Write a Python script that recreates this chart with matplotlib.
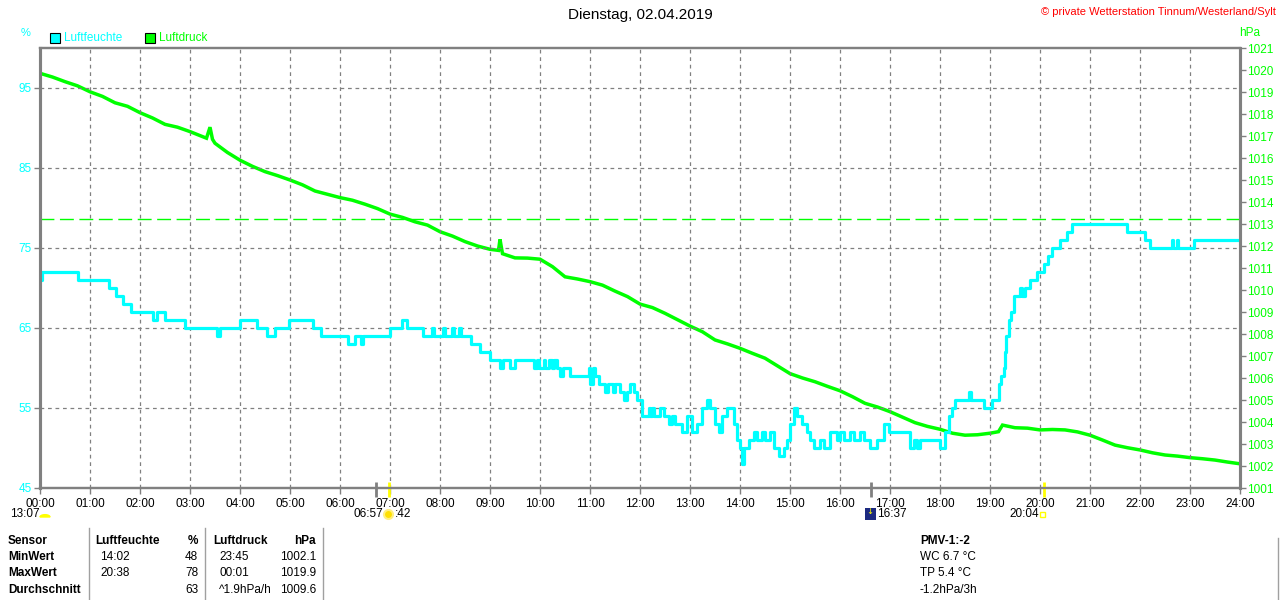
import matplotlib.pyplot as plt
from matplotlib.patches import Rectangle, Wedge, Ellipse

# Luftfeuchte (%) - Zeitpunkte (h) an denen sich der Wert aendert
hum_t = [0.00, 0.04, 0.76, 1.38, 1.52, 1.66, 1.82, 2.26, 2.34, 2.50, 2.90, 3.54, 3.60,
         4.00, 4.34, 4.54, 4.70, 4.98, 5.46, 5.62, 6.16, 6.30, 6.42, 6.46, 7.00, 7.24,
         7.34, 7.66, 7.84, 7.88, 8.06, 8.10, 8.24, 8.28, 8.38, 8.42, 8.62, 8.80, 9.00,
         9.20, 9.26, 9.40, 9.50, 9.87, 9.93, 9.97, 10.07, 10.10, 10.17, 10.23, 10.27,
         10.33, 10.40, 10.45, 10.60, 10.97, 11.00, 11.05, 11.10, 11.17, 11.30, 11.35,
         11.45, 11.50, 11.60, 11.67, 11.73, 11.80, 11.87, 11.93, 12.03, 12.17, 12.20,
         12.23, 12.27, 12.40, 12.47, 12.57, 12.63, 12.70, 12.83, 12.93, 13.03, 13.13,
         13.23, 13.33, 13.40, 13.50, 13.57, 13.63, 13.73, 13.87, 13.93, 14.00, 14.03,
         14.07, 14.17, 14.27, 14.33, 14.43, 14.50, 14.60, 14.67, 14.77, 14.87, 14.93,
         15.00, 15.07, 15.13, 15.23, 15.33, 15.40, 15.47, 15.60, 15.67, 15.80, 15.93,
         16.00, 16.07, 16.20, 16.27, 16.40, 16.47, 16.60, 16.73, 16.87, 16.97, 17.40,
         17.47, 17.53, 17.60, 18.00, 18.10, 18.17, 18.23, 18.30, 18.57, 18.61, 18.87,
         19.03, 19.17, 19.22, 19.27, 19.30, 19.33, 19.37, 19.42, 19.47, 19.60, 19.63,
         19.70, 19.80, 19.93, 20.07, 20.15, 20.23, 20.40, 20.53, 20.63, 21.73, 22.10,
         22.20, 22.63, 22.66, 22.73, 22.76, 23.07, 24.00]
hum_v = [71, 72, 71, 70, 69, 68, 67, 66, 67, 66, 65, 64, 65,
         66, 65, 64, 65, 66, 65, 64, 63, 64, 63, 64, 65, 66,
         65, 64, 65, 64, 65, 64, 65, 64, 65, 64, 63, 62, 61,
         60, 61, 60, 61, 60, 61, 60, 61, 60, 61, 60, 61,
         60, 59, 60, 59, 60, 58, 60, 59, 58, 57, 58,
         57, 58, 57, 56, 57, 58, 57, 56, 54, 55, 54,
         55, 54, 55, 54, 53, 54, 53, 52, 54, 52, 53,
         55, 56, 55, 53, 52, 54, 55, 53, 51, 50, 48,
         50, 51, 52, 51, 52, 51, 52, 50, 49, 50, 51,
         53, 55, 54, 53, 52, 51, 50, 51, 50, 52, 51,
         52, 51, 52, 51, 52, 51, 50, 51, 53, 52, 50,
         51, 50, 51, 50, 52, 54, 55, 56, 57, 56, 55,
         56, 58, 59, 60, 62, 64, 66, 67, 69, 70, 69,
         70, 71, 72, 73, 74, 75, 76, 77, 78, 77, 76,
         75, 76, 75, 76, 75, 76, 76]

# Luftdruck (hPa)
p_t = [0.00, 0.25, 0.50, 0.75, 1.00, 1.25, 1.50, 1.75, 2.00, 2.25, 2.50, 2.75, 3.00,
       3.33, 3.40, 3.45, 3.50, 3.75, 4.00, 4.25, 4.50, 4.75, 5.00, 5.25, 5.50, 5.75,
       6.00, 6.25, 6.50, 6.75, 7.00, 7.25, 7.50, 7.75, 8.00, 8.25, 8.50, 8.75, 9.00,
       9.17, 9.20, 9.25, 9.50, 9.75, 10.00, 10.25, 10.50, 10.75, 11.00, 11.25, 11.50,
       11.75, 12.00, 12.25, 12.50, 12.75, 13.00, 13.25, 13.50, 13.75, 14.00, 14.25,
       14.50, 14.75, 15.00, 15.25, 15.50, 15.75, 16.00, 16.25, 16.50, 16.75, 17.00,
       17.25, 17.50, 17.75, 18.00, 18.25, 18.50, 18.75, 19.00, 19.17, 19.25, 19.50,
       19.75, 20.00, 20.25, 20.50, 20.75, 21.00, 21.25, 21.50, 21.75, 22.00, 22.25,
       22.50, 22.75, 23.00, 23.25, 23.50, 23.75, 24.00]
p_v = [1019.85, 1019.68, 1019.47, 1019.28, 1019.01, 1018.80, 1018.51, 1018.35, 1018.06,
       1017.82, 1017.53, 1017.40, 1017.20, 1016.90, 1017.40, 1016.85, 1016.67, 1016.25,
       1015.90, 1015.62, 1015.38, 1015.20, 1015.00, 1014.78, 1014.50, 1014.35, 1014.20,
       1014.08, 1013.90, 1013.70, 1013.45, 1013.30, 1013.10, 1012.95, 1012.65, 1012.45,
       1012.20, 1012.00, 1011.85, 1011.80, 1012.30, 1011.65, 1011.46, 1011.45, 1011.40,
       1011.06, 1010.60, 1010.50, 1010.38, 1010.22, 1009.95, 1009.70, 1009.36, 1009.20,
       1008.94, 1008.65, 1008.36, 1008.10, 1007.73, 1007.55, 1007.35, 1007.12, 1006.90,
       1006.55, 1006.20, 1006.00, 1005.83, 1005.62, 1005.42, 1005.15, 1004.85, 1004.68,
       1004.47, 1004.22, 1003.97, 1003.80, 1003.67, 1003.49, 1003.40, 1003.42, 1003.49,
       1003.56, 1003.86, 1003.74, 1003.72, 1003.64, 1003.66, 1003.64, 1003.55, 1003.40,
       1003.18, 1002.95, 1002.83, 1002.73, 1002.60, 1002.50, 1002.45, 1002.38, 1002.33,
       1002.27, 1002.18, 1002.10]

hours = list(range(25))
hour_labels = [f'{h:02d}:00' for h in hours]
hum_ticks = [45, 55, 65, 75, 85, 95]
p_ticks = list(range(1001, 1022))
p_norm = 1013.25

CYAN = '#00FFFF'
GREEN = '#00FF00'
GRAY = '#808080'

plt.rcParams['font.family'] = ['Liberation Sans', 'DejaVu Sans']
plt.rcParams['font.size'] = 8

fig = plt.figure(figsize=(12.8, 6), dpi=100)
W, H = 1280, 600


def fx(x):
    return x / W


def fy(y):
    return 1 - y / H


ax = fig.add_axes([40 / W, 1 - 488 / H, 1200 / W, 440 / H])
ax2 = ax.twinx()
ax.set_zorder(ax2.get_zorder() + 1)
ax.patch.set_visible(False)

# Druck + Normaldruck
ax2.plot(p_t, p_v, color=GREEN, lw=2.5, solid_joinstyle='miter')
ax2.axhline(p_norm, color=GREEN, lw=1, ls=(0, (10, 4)))
ax2.set_ylim(1001, 1021)
ax2.set_yticks(p_ticks)
ax2.tick_params(axis='y', colors=GRAY, labelcolor=GREEN, length=4, width=1, labelsize=8.5, pad=1)

# Feuchte
ax.step(hum_t, hum_v, where='post', color=CYAN, lw=2.3)
ax.set_xlim(0, 24)
ax.set_ylim(45, 100)
ax.set_yticks(hum_ticks)
ax.set_xticks(hours)
ax.set_xticklabels(hour_labels)
ax.tick_params(axis='y', colors=GRAY, labelcolor=CYAN, length=4, width=1, labelsize=8.5, pad=2)
ax.tick_params(axis='x', colors=GRAY, labelcolor='black', length=4, width=1, labelsize=8.5, pad=3)
ax.grid(True, color=GRAY, lw=0.9, ls=(0, (3, 3)))

for a in (ax, ax2):
    for side in ('left', 'right'):
        a.spines[side].set_color(GRAY)
        a.spines[side].set_linewidth(2.2)
    for side in ('top', 'bottom'):
        a.spines[side].set_color(GRAY)
        a.spines[side].set_linewidth(1.6)

# Marker fuer Sonnen-/Mondzeiten auf der Zeitachse
for t, c, lw in [(6.71, GRAY, 2), (16.61, GRAY, 2), (6.97, 'yellow', 2), (20.07, 'yellow', 2)]:
    ax.plot([t, t], [45.7, 43.9], color=c, lw=lw, clip_on=False, solid_capstyle='butt')

# Titel und Kopf
fig.text(0.5, fy(15), 'Dienstag, 02.04.2019', ha='center', va='center', fontsize=11)
fig.text(fx(1276), fy(12), '© private Wetterstation Tinnum/Westerland/Sylt', ha='right',
         va='center', color='red', fontsize=8)
fig.text(fx(26), fy(33), '%', ha='center', va='center', color=CYAN, fontsize=8)
fig.text(fx(1250), fy(33), 'hPa', ha='center', va='center', color=GREEN, fontsize=8.5)

# Legende
for x0, col, lab in [(50, CYAN, 'Luftfeuchte'), (145, GREEN, 'Luftdruck')]:
    fig.add_artist(Rectangle((fx(x0), fy(43)), 10 / W, 10 / H, transform=fig.transFigure,
                             facecolor=col, edgecolor='black', lw=0.8))
    fig.text(fx(x0 + 14), fy(38), lab, ha='left', va='center', color=col, fontsize=8.5)

# Zeiten unter der Achse
fig.text(fx(10), fy(514), '13:07', ha='left', va='center', fontsize=8.5)
fig.add_artist(Wedge((fx(45), fy(517)), 5 / W, 0, 180, transform=fig.transFigure,
                     facecolor='yellow', edgecolor='yellow'))
fig.text(fx(353), fy(514), '06:57', ha='left', va='center', fontsize=8.5)
# Sonnensymbol als kleiner Kreis
fig.add_artist(Ellipse((fx(388.5), fy(514.5)), 9 / W, 9 / H, transform=fig.transFigure,
                       facecolor='#FFE000', edgecolor='#FFF080', lw=1.5))
fig.text(fx(395), fy(514), ':42', ha='left', va='center', fontsize=8.5)
fig.add_artist(Rectangle((fx(865), fy(520)), 11 / W, 12 / H, transform=fig.transFigure,
                         facecolor='#1C2A80', edgecolor='none'))
fig.text(fx(870), fy(512), '↓', ha='center', va='center', color='yellow', fontsize=6,
         family=['DejaVu Sans'])
fig.text(fx(877), fy(514), '16:37', ha='left', va='center', fontsize=8.5)
fig.text(fx(1009), fy(514), '20:04', ha='left', va='center', fontsize=8.5)
fig.add_artist(Rectangle((fx(1040), fy(517)), 5 / W, 5 / H, transform=fig.transFigure,
                         facecolor='none', edgecolor='yellow', lw=1))

# Tabelle unten
rows_y = [541, 557, 573, 590]
col1 = ['Sensor', 'MinWert', 'MaxWert', 'Durchschnitt']
col2 = ['Luftfeuchte', '14:02', '20:38', '']
col3 = ['%', '48', '78', '63']
col4 = ['Luftdruck', '23:45', '00:01', '^1.9hPa/h']
col5 = ['hPa', '1002.1', '1019.9', '1009.6']
for i, y in enumerate(rows_y):
    bold = 'bold' if i == 0 else 'normal'
    fig.text(fx(8), fy(y), col1[i], ha='left', va='center', fontsize=8.5, fontweight='bold')
    fig.text(fx(95 if i == 0 else 100), fy(y), col2[i], ha='left', va='center', fontsize=8.5,
             fontweight=bold)
    fig.text(fx(198), fy(y), col3[i], ha='right', va='center', fontsize=8.5, fontweight=bold)
    fig.text(fx(213 if i == 0 else 219), fy(y), col4[i], ha='left', va='center', fontsize=8.5,
             fontweight=bold)
    fig.text(fx(316), fy(y), col5[i], ha='right', va='center', fontsize=8.5, fontweight=bold)

pmv = ['PMV-1:-2', 'WC 6.7 °C', 'TP 5.4 °C', '-1.2hPa/3h']
for i, y in enumerate(rows_y):
    fig.text(fx(920), fy(y), pmv[i], ha='left', va='center', fontsize=8.5,
             fontweight='bold' if i == 0 else 'normal')

for xl, y0 in [(89, 528), (205, 528), (323, 528), (1278, 538)]:
    fig.add_artist(plt.Line2D([fx(xl), fx(xl)], [fy(y0), fy(600)], transform=fig.transFigure,
                              color='#A0A0A0', lw=1))

fig.savefig('out.png', dpi=100)
